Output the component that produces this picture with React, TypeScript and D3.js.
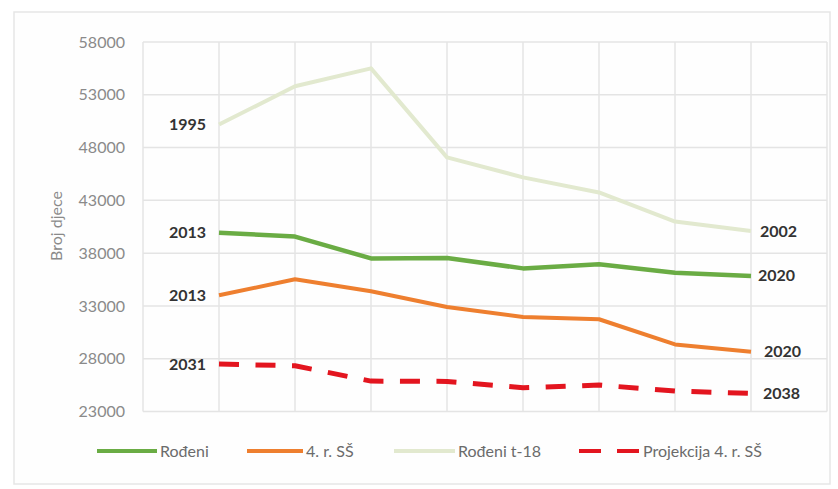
import React from "react";
import * as d3 from "d3";

const slots = ["", "1", "2", "3", "4", "5", "6", "7", "8", ""];
const idx = [1, 2, 3, 4, 5, 6, 7, 8];
const rodeni = [39939, 39566, 37503, 37537, 36556, 36945, 36135, 35845];
const cetvrtiSS = [34010, 35520, 34390, 32900, 31960, 31740, 29350, 28650];
const rodeniT18 = [50182, 53811, 55501, 47068, 45179, 43746, 40993, 40094];
const projekcija = [27490, 27330, 25880, 25850, 25250, 25500, 24940, 24720];
const yTicks = [23000, 28000, 33000, 38000, 43000, 48000, 53000, 58000];

const startLabels = [
  { text: "1995", values: rodeniT18 },
  { text: "2013", values: rodeni },
  { text: "2013", values: cetvrtiSS },
  { text: "2031", values: projekcija },
];
const endLabels = [
  { text: "2002", values: rodeniT18, dx: 9 },
  { text: "2020", values: rodeni, dx: 7 },
  { text: "2020", values: cetvrtiSS, dx: 13 },
  { text: "2038", values: projekcija, dx: 12 },
];

const W = 838, H = 489;
const FONT = "Lato, 'Open Sans', sans-serif";

export default function App() {
  const x = d3.scaleLinear().domain([0, slots.length - 1]).range([143, 827]);
  const y = d3.scaleLinear().domain([23000, 58000]).range([411.5, 42]);
  const line = d3
    .line<number>()
    .x((_, i) => x(idx[i]))
    .y((d) => y(d));

  const series = [
    { values: rodeniT18, color: "#e2e9cf", width: 4, dash: null },
    { values: rodeni, color: "#6aac44", width: 4.5, dash: null },
    { values: cetvrtiSS, color: "#ee7f2f", width: 4, dash: null },
    { values: projekcija, color: "#e3151f", width: 5, dash: "20 16.5" },
  ];

  const legend = [
    { label: "Rođeni", color: "#6aac44", x1: 97, x2: 157, dash: null },
    { label: "4. r. SŠ", color: "#ee7f2f", x1: 247, x2: 303, dash: null },
    { label: "Rođeni t-18", color: "#e2e9cf", x1: 394, x2: 455, dash: null },
    { label: "Projekcija 4. r. SŠ", color: "#e3151f", x1: 579, x2: 640, dash: "22 16" },
  ];

  return (
    <svg
      width={W}
      height={H}
      style={{ position: "absolute", left: 0, top: 0, background: "#ffffff" }}
      fontFamily={FONT}
    >
      <rect x={14} y={12} width={816} height={472} fill="#fefefe" stroke="#e6e6e6" strokeWidth={1.5} />
      {yTicks.map((t) => (
        <line key={"h" + t} x1={143} x2={827} y1={y(t)} y2={y(t)} stroke="#e4e4e4" strokeWidth={1.5} />
      ))}
      {slots.map((_, i) => (
        <line key={"v" + i} x1={x(i)} x2={x(i)} y1={y(58000)} y2={y(23000)} stroke="#e4e4e4" strokeWidth={1.5} />
      ))}
      {yTicks.map((t) => (
        <text key={"t" + t} x={125} y={y(t)} dy="0.35em" textAnchor="end" fontSize={16} fill="#8a8a8a">
          {t}
        </text>
      ))}
      <text
        transform={`translate(56,226) rotate(-90)`}
        textAnchor="middle"
        dy="0.35em"
        fontSize={16}
        fill="#8a8a8a"
      >
        Broj djece
      </text>
      {series.map((s, i) => (
        <path
          key={"s" + i}
          d={line(s.values) || ""}
          fill="none"
          stroke={s.color}
          strokeWidth={s.width}
          strokeDasharray={s.dash || undefined}
          strokeLinejoin="round"
        />
      ))}
      {startLabels.map((l, i) => (
        <text
          key={"sl" + i}
          x={x(idx[0]) - 13}
          y={y(l.values[0])}
          dy="0.35em"
          textAnchor="end"
          fontSize={16}
          fontWeight={700}
          fill="#333333"
        >
          {l.text}
        </text>
      ))}
      {endLabels.map((l, i) => (
        <text
          key={"el" + i}
          x={x(idx[idx.length - 1]) + l.dx}
          y={y(l.values[l.values.length - 1])}
          dy="0.35em"
          textAnchor="start"
          fontSize={16}
          fontWeight={700}
          fill="#333333"
        >
          {l.text}
        </text>
      ))}
      {legend.map((l, i) => (
        <g key={"lg" + i}>
          <line
            x1={l.x1}
            x2={l.x2}
            y1={451}
            y2={451}
            stroke={l.color}
            strokeWidth={4}
            strokeDasharray={l.dash || undefined}
          />
          <text x={l.x2 + 3} y={451} dy="0.35em" fontSize={16} fill="#6b6b6b">
            {l.label}
          </text>
        </g>
      ))}
    </svg>
  );
}
